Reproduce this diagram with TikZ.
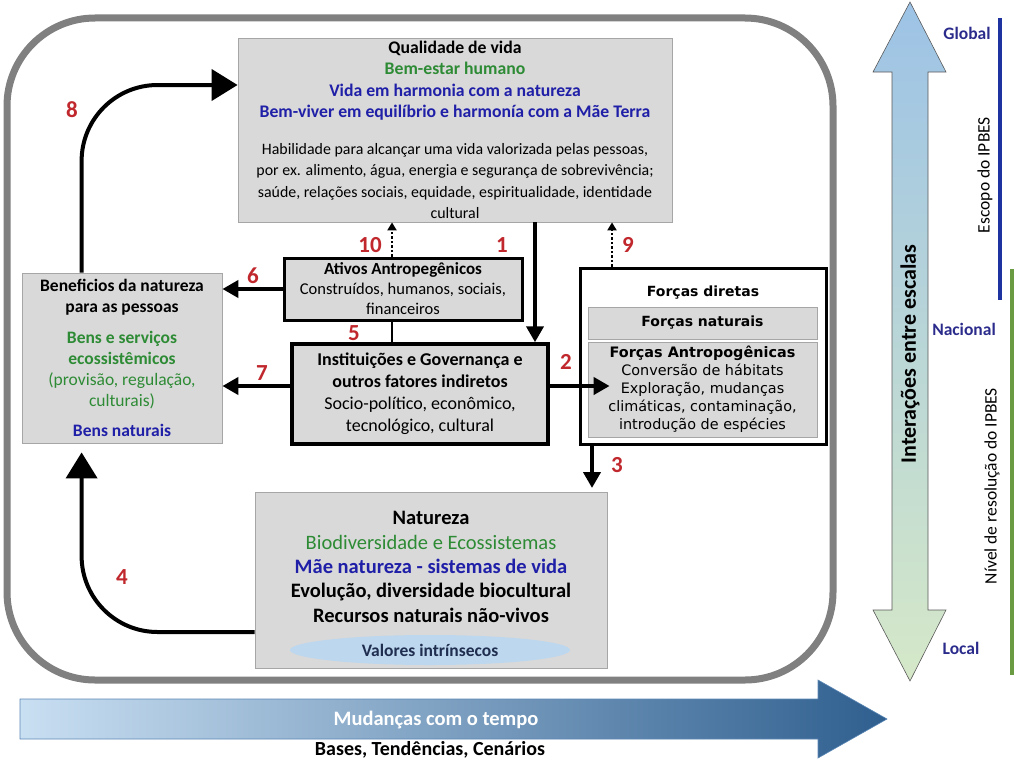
\documentclass[tikz,border=0pt]{standalone}
\usepackage{fontspec}
\setmainfont{Carlito}
\newfontfamily\dejavu{DejaVu Sans}
\usetikzlibrary{arrows.meta,calc,shapes.geometric}
\definecolor{boxgray}{HTML}{D9D9D9}
\definecolor{boxline}{HTML}{A6A6A6}
\definecolor{framegray}{HTML}{808080}
\definecolor{txtgreen}{HTML}{2E8B35}
\definecolor{txtblue}{HTML}{1F1FA8}
\definecolor{numred}{HTML}{C0282D}
\definecolor{scaleblue}{HTML}{2B2B8C}
\definecolor{scopeblue}{HTML}{1F33A0}
\definecolor{resgreen}{HTML}{6A9A42}
\definecolor{ellblue}{HTML}{BDD7EE}
\definecolor{valtext}{HTML}{1F2D4F}
\definecolor{arrtop}{HTML}{9DC3E6}
\definecolor{arrbot}{HTML}{D5E8C8}
\definecolor{timeleft}{HTML}{C9DFF2}
\definecolor{timeright}{HTML}{2F5F8F}
\definecolor{timeline}{HTML}{5B87B5}
\newcommand{\greentxt}[1]{\textcolor{txtgreen}{#1}}
\newcommand{\bluetxt}[1]{\textcolor{txtblue}{#1}}
\begin{document}
\begin{tikzpicture}[x=1pt,y=-1pt,
  box/.style={draw=boxline,fill=boxgray,line width=0.8pt,align=center,inner sep=0pt},
  heavybox/.style={box,draw=black,line width=3pt},
  flow/.style={line width=4pt,-{Triangle[length=16pt,width=17pt]}},
  loopflow/.style={line width=4pt,rounded corners=76pt,-{Triangle[length=26pt,width=31pt]}},
  dotflow/.style={line width=2.5pt,dotted,-{Triangle[length=8pt,width=9pt]}},
  num/.style={text=numred,font=\fontsize{23}{23}\selectfont\bfseries},
  level/.style={text=scaleblue,font=\fontsize{17.5}{17.5}\selectfont\bfseries}]

\useasboundingbox (0,0) rectangle (1024,776);

\draw[line width=7pt,framegray,rounded corners=88pt] (7,18) rectangle (833,680);

\node[box,minimum width=434pt,minimum height=184pt,font=\fontsize{17.7}{21.5}\selectfont] (qv) at (455,130)
 {\textbf{Qualidade de vida}\\
  \greentxt{\textbf{Bem-estar humano}}\\
  \bluetxt{\textbf{Vida em harmonia com a natureza}}\\
  \bluetxt{\textbf{Bem-viver em equilíbrio e harmonía com a Mãe Terra}}\\[15pt]
  {\fontsize{15.9}{19.8}\selectfont Habilidade para alcançar uma vida valorizada pelas pessoas,}\\
  {\fontsize{15.9}{19.8}\selectfont por ex. alimento, água, energia e segurança de sobrevivência;}\\
  {\fontsize{15.9}{19.8}\selectfont saúde, relações sociais, equidade, espiritualidade, identidade}\\
  {\fontsize{15.9}{19.8}\selectfont cultural}};

\node[box,minimum width=200pt,minimum height=170pt,font=\fontsize{17.5}{21}\selectfont] (bn) at (122,358)
 {\textbf{Beneficios da natureza}\\
  \textbf{para as pessoas}\\[10pt]
  \greentxt{\textbf{Bens e serviços}}\\
  \greentxt{\textbf{ecossistêmicos}}\\
  \greentxt{(provisão, regulação,}\\
  \greentxt{culturais)}\\[9pt]
  \bluetxt{\textbf{Bens naturais}}};

\node[heavybox,minimum width=238pt,minimum height=62pt,font=\fontsize{16.5}{20}\selectfont] (aa) at (403,289)
 {\textbf{\fontsize{17}{20}\selectfont Ativos Antropegênicos}\\Construídos, humanos, sociais,\\financeiros};

\node[heavybox,line width=3.5pt,minimum width=256pt,minimum height=100pt,font=\fontsize{18}{22}\selectfont] (ig) at (420,394)
 {\textbf{Instituições e Governança e}\\\textbf{outros fatores indiretos}\\Socio-político, econômico,\\tecnológico, cultural};

\node[draw=black,fill=white,line width=3pt,minimum width=246pt,minimum height=176pt] (fd) at (703,356) {};
\node[font=\dejavu\fontsize{14}{14}\selectfont\bfseries] (fdt) at (703,293) {Forças diretas};
\node[box,minimum width=229pt,minimum height=32pt,font=\dejavu\fontsize{14}{14}\selectfont\bfseries] (fn) at (702.5,323) {Forças naturais};
\node[box,minimum width=229pt,minimum height=95pt,font=\dejavu\fontsize{14.4}{18}\selectfont] (fa) at (702.5,389.5)
 {\textbf{Forças Antropogênicas}\\Conversão de hábitats\\Exploração, mudanças\\climáticas, contaminação,\\introdução de espécies};

\node[box,minimum width=352pt,minimum height=176pt] (nat) at (431,580) {};
\node[align=center,font=\fontsize{20.5}{24.3}\selectfont\bfseries] (natt) at (431,567)
 {Natureza\\\greentxt{\mdseries Biodiversidade e Ecossistemas}\\\bluetxt{Mãe natureza - sistemas de vida}\\Evolução, diversidade biocultural\\Recursos naturais não-vivos};
\node[ellipse,fill=ellblue,minimum width=280pt,minimum height=30pt,inner sep=0pt,text=valtext,font=\fontsize{17.5}{17.5}\selectfont\bfseries] (vi) at (430,650) {Valores intrínsecos};

\draw[loopflow] ($(bn.north west)+(60,0)$) |- ($(qv.west)+(0,-45)$);
\draw[loopflow] ($(nat.west)+(0,52)$) -| ($(bn.south west)+(60,9)$);

\coordinate (q1) at ($(qv.south)+(80,0)$);
\draw[flow] (q1) -- (q1 |- ig.north);
\coordinate (a10) at ($(aa.north)+(-11,0)$);
\draw[dotflow] (a10) -- (a10 |- qv.south);
\draw[line width=2pt] (a10 |- aa.south) -- (a10 |- ig.north);
\coordinate (f9) at ($(fd.north)+(-91,0)$);
\draw[dotflow] (f9) -- (f9 |- qv.south);
\draw[flow] (aa.west) -- (aa.west -| bn.east);
\coordinate (i7) at ($(ig.west)+(0,-8)$);
\draw[flow] (i7) -- (i7 -| bn.east);
\coordinate (i2) at ($(ig.east)+(0,-8)$);
\draw[flow] (i2) -- ($(i2 -| fa.west)+(22,0)$);
\coordinate (n3) at (592,488);
\draw[flow] (n3 |- fd.south) -- (n3);

\node[num] (l1) at (502,245) {1};
\node[num] (l2) at (566,362) {2};
\node[num] (l3) at (617,465) {3};
\node[num] (l4) at (122,577) {4};
\node[num] (l5) at (354,333) {5};
\node[num] (l6) at (253,276) {6};
\node[num] (l7) at (262,373) {7};
\node[num] (l8) at (72,110) {8};
\node[num] (l9) at (628,245) {9};
\node[num] (l10) at (370,245) {10};

\draw[draw=gray!70!black,line width=0.6pt,top color=arrtop,bottom color=arrbot]
  (910,2) -- (946,72) -- (928,72) -- (928,610) -- (946,610) -- (910,681)
  -- (873,610) -- (892,610) -- (892,72) -- (873,72) -- cycle;
\node[rotate=90,font=\fontsize{22}{22}\selectfont\bfseries] (ie) at (910,354) {Interações entre escalas};

\node[level] (gl) at (967,33) {Global};
\node[level] (na) at (964,329) {Nacional};
\node[level] (lo) at (961,648) {Local};
\draw[scopeblue,line width=4pt] (1000,18) -- (1000,300);
\draw[resgreen,line width=4pt] (1012,269) -- (1012,675);
\node[rotate=90,font=\fontsize{17.5}{17.5}\selectfont] (esc) at (985,175) {Escopo do IPBES};
\node[rotate=90,font=\fontsize{17.5}{17.5}\selectfont] (niv) at (992,486) {Nível de resolução do IPBES};

\draw[draw=timeline,line width=0.6pt,left color=timeleft,right color=timeright]
  (20,699) -- (818,699) -- (818,680) -- (887,719) -- (818,758) -- (818,739) -- (20,739) -- cycle;
\node[text=white,font=\fontsize{20.5}{20.5}\selectfont\bfseries] (mt) at (436,720) {Mudanças com o tempo};
\node[font=\fontsize{20}{20}\selectfont\bfseries] (btc) at (430,750) {Bases, Tendências, Cenários};
\end{tikzpicture}
\end{document}
